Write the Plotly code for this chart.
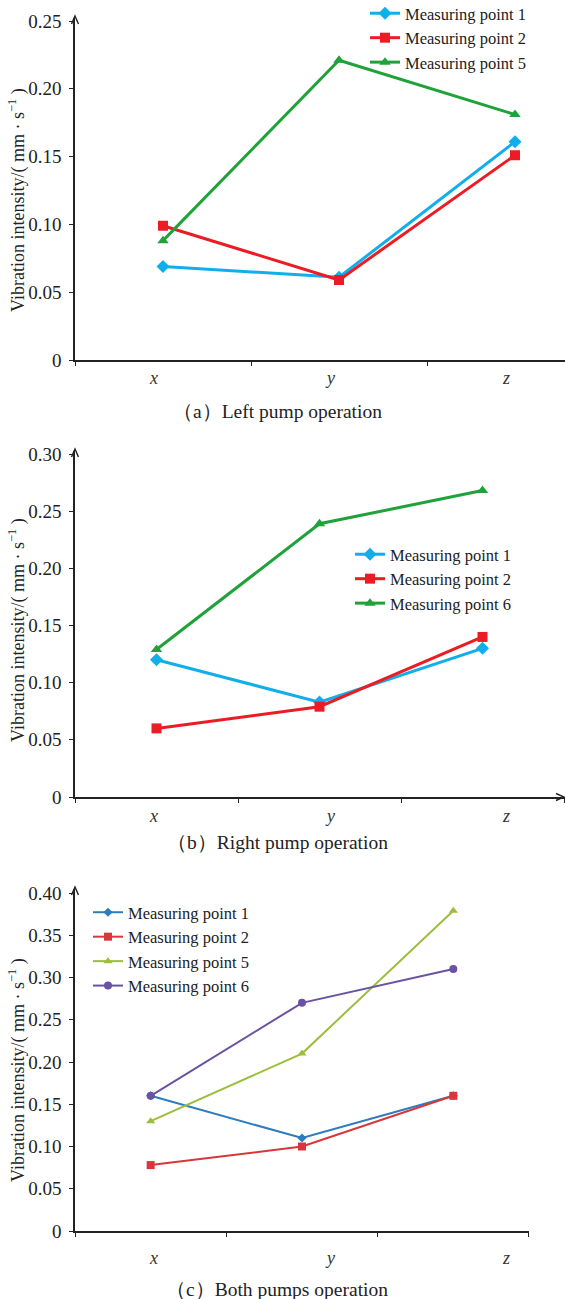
import plotly.graph_objects as go

W, H = 565, 1299
FONT = "Liberation Serif, Times New Roman, serif"

# ---------------- data ----------------
categories = ["x", "y", "z"]

a_names = ["Measuring point 1", "Measuring point 2", "Measuring point 5"]
a_mp1 = [0.069, 0.061, 0.161]
a_mp2 = [0.099, 0.059, 0.151]
a_mp5 = [0.088, 0.221, 0.181]

b_names = ["Measuring point 1", "Measuring point 2", "Measuring point 6"]
b_mp1 = [0.120, 0.083, 0.130]
b_mp2 = [0.060, 0.079, 0.140]
b_mp6 = [0.129, 0.239, 0.268]

c_names = ["Measuring point 1", "Measuring point 2", "Measuring point 5", "Measuring point 6"]
c_mp1 = [0.160, 0.110, 0.160]
c_mp2 = [0.078, 0.100, 0.160]
c_mp5 = [0.130, 0.210, 0.379]
c_mp6 = [0.160, 0.270, 0.310]

a_ticks = [0, 0.05, 0.10, 0.15, 0.20, 0.25]
a_ticktext = ["0", "0.05", "0.10", "0.15", "0.20", "0.25"]
b_ticks = [0, 0.05, 0.10, 0.15, 0.20, 0.25, 0.30]
b_ticktext = ["0", "0.05", "0.10", "0.15", "0.20", "0.25", "0.30"]
c_ticks = [0, 0.05, 0.10, 0.15, 0.20, 0.25, 0.30, 0.35, 0.40]
c_ticktext = ["0", "0.05", "0.10", "0.15", "0.20", "0.25", "0.30", "0.35", "0.40"]

captions = ["（a）Left pump operation", "（b）Right pump operation", "（c）Both pumps operation"]
y_title = "Vibration intensity/( mm · s<sup>−1</sup> )"

# ---------------- helpers ----------------
def py(px):
    return 1 - px / H

def pxx(px):
    return px / W

fig = go.Figure()

def add(xax, yax, legend, name, vals, color, symbol, width, msize):
    fig.add_trace(go.Scatter(
        x=categories, y=vals, name=name, mode="lines+markers",
        xaxis=xax, yaxis=yax, legend=legend,
        line=dict(color=color, width=width),
        marker=dict(color=color, symbol=symbol, size=msize),
    ))

cyan, red, green = "#10AEEA", "#EC1C24", "#1FA23A"
add("x", "y", "legend", a_names[0], a_mp1, cyan, "diamond", 3, 10)
add("x", "y", "legend", a_names[1], a_mp2, red, "square", 3, 10)
add("x", "y", "legend", a_names[2], a_mp5, green, "triangle-up", 3, 10)

add("x2", "y2", "legend2", b_names[0], b_mp1, cyan, "diamond", 3, 10)
add("x2", "y2", "legend2", b_names[1], b_mp2, red, "square", 3, 10)
add("x2", "y2", "legend2", b_names[2], b_mp6, green, "triangle-up", 3, 10)

add("x3", "y3", "legend3", c_names[0], c_mp1, "#2C7CBF", "diamond", 2, 7)
add("x3", "y3", "legend3", c_names[1], c_mp2, "#D8363B", "square", 2, 8)
add("x3", "y3", "legend3", c_names[2], c_mp5, "#9CBE3C", "triangle-up", 2, 8)
add("x3", "y3", "legend3", c_names[3], c_mp6, "#6A52A3", "circle", 2, 8)

axcol = "#222222"
tickfont = dict(family=FONT, size=19, color="#222")

panels = [
    dict(y0=360, ytv=21, tv=0.25, ytop=18, xl=75, xr=565, xend=-0.5 + 490 / 176,
         ticks=a_ticks, ttext=a_ticktext),
    dict(y0=797, ytv=454, tv=0.30, ytop=451, xl=75, xr=565, xend=-0.5 + 490 / 163,
         ticks=b_ticks, ttext=b_ticktext),
    dict(y0=1231, ytv=893, tv=0.40, ytop=889, xl=75, xr=529, xend=2.5001,
         ticks=c_ticks, ttext=c_ticktext),
]

layout = dict(
    width=W, height=H, margin=dict(l=0, r=0, t=0, b=0, autoexpand=False),
    paper_bgcolor="white", plot_bgcolor="white",
    font=dict(family=FONT, color="#222"),
)
annotations = []
shapes = []

def chevron(tipx, tipy, direction):
    L, Wd = 8, 3.5
    if direction == "up":
        pts = [(tipx - Wd, tipy + L), (tipx, tipy), (tipx + Wd, tipy + L)]
    else:
        pts = [(tipx - L, tipy - Wd), (tipx, tipy), (tipx - L, tipy + Wd)]
    path = "M %f,%f L %f,%f L %f,%f" % tuple(v for (x, y) in pts for v in (pxx(x), py(y)))
    return dict(type="path", xref="paper", yref="paper", path=path,
                line=dict(color=axcol, width=1.4))

for i, p in enumerate(panels):
    sfx = "" if i == 0 else str(i + 1)
    ymax = p["tv"] * (p["y0"] - p["ytop"]) / (p["y0"] - p["ytv"])
    layout["xaxis" + sfx] = dict(
        domain=[pxx(p["xl"]), pxx(p["xr"])], anchor="y" + sfx,
        type="category", categoryorder="array", categoryarray=categories,
        range=[-0.5, p["xend"]], showgrid=False, zeroline=False,
        showline=True, linecolor=axcol, linewidth=1.6,
        ticks="outside", tickson="boundaries", ticklen=4, tickcolor=axcol, tickwidth=1.3,
        showticklabels=False, fixedrange=True,
    )
    layout["yaxis" + sfx] = dict(
        domain=[py(p["y0"]), py(p["ytop"])], anchor="x" + sfx,
        range=[0, ymax], showgrid=False, zeroline=False,
        showline=True, linecolor=axcol, linewidth=1.6,
        tickvals=p["ticks"], ticktext=p["ttext"], ticks="outside", ticklen=4,
        tickcolor=axcol, tickwidth=1.3, tickfont=tickfont, ticklabelstandoff=4,
    )
    shapes.append(chevron(p["xl"], p["ytop"] - 2, "up"))

shapes.append(chevron(564, 797, "right"))

# category labels (x, y, z)
label_x_px = [153, 330, 506]
label_y_px = [378, 816, 1258]
for ly in label_y_px:
    for lx, cat in zip(label_x_px, categories):
        annotations.append(dict(
            xref="paper", yref="paper", x=pxx(lx), y=py(ly), text="<i>%s</i>" % cat,
            showarrow=False, xanchor="center", yanchor="middle",
            font=dict(family=FONT, size=18, color="#333"),
        ))

# y-axis titles
title_centers = [200, 630, 1070]
for cy in title_centers:
    annotations.append(dict(
        xref="paper", yref="paper", x=pxx(17), y=py(cy), text=y_title,
        textangle=-90, showarrow=False, xanchor="center", yanchor="middle",
        font=dict(family=FONT, size=18, color="#222"),
    ))

# captions
caption_y = [411, 843, 1289]
for cy, cap in zip(caption_y, captions):
    annotations.append(dict(
        xref="paper", yref="paper", x=pxx(277), y=py(cy), text=cap,
        showarrow=False, xanchor="center", yanchor="middle",
        font=dict(family=FONT, size=19.5, color="#222"),
    ))

layout["annotations"] = annotations
layout["shapes"] = shapes

legfont = dict(family=FONT, size=16.5, color="#222")
layout["legend"] = dict(x=pxx(365), y=py(-4), xanchor="left", yanchor="top",
                        bgcolor="rgba(0,0,0,0)", font=legfont, tracegroupgap=0)
layout["legend2"] = dict(x=pxx(350), y=py(537), xanchor="left", yanchor="top",
                         bgcolor="rgba(0,0,0,0)", font=legfont, tracegroupgap=0)
layout["legend3"] = dict(x=pxx(88), y=py(895), xanchor="left", yanchor="top",
                         bgcolor="rgba(0,0,0,0)", font=legfont, tracegroupgap=0)
layout["showlegend"] = True

fig.update_layout(**layout)
fig.write_html("out.html",
               config={"displayModeBar": False},
               post_script="document.body.style.margin='0px';document.body.style.padding='0px';")
